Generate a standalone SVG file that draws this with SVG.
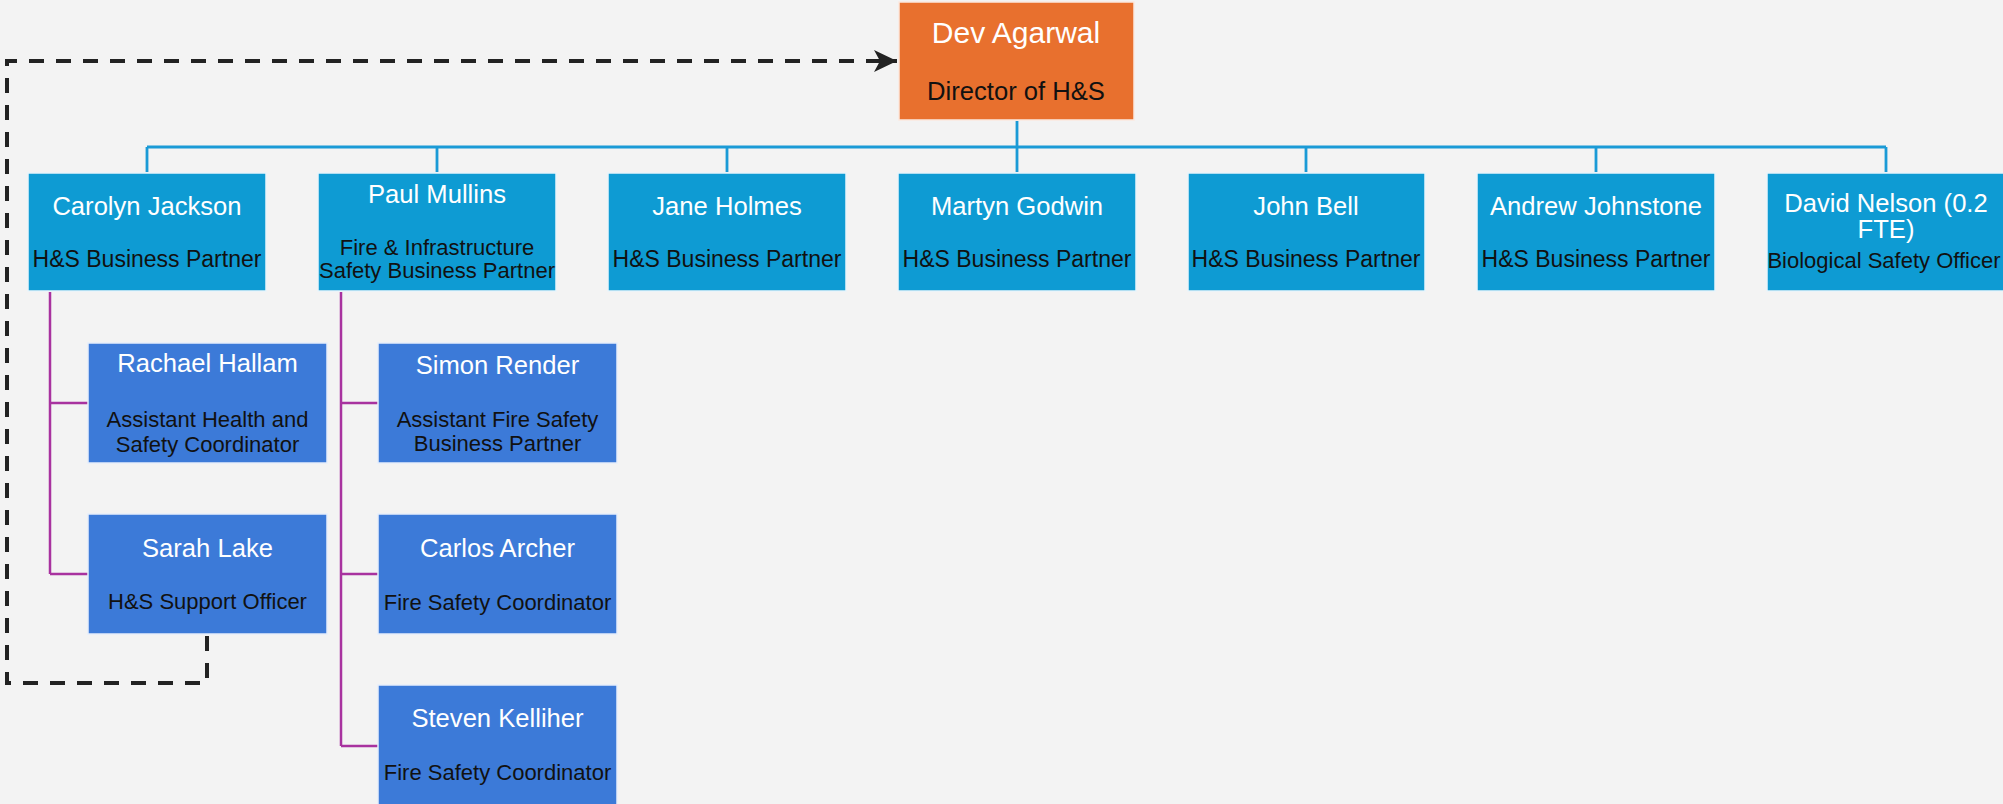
<svg xmlns="http://www.w3.org/2000/svg" width="2003" height="804" viewBox="0 0 2003 804">
<style>
.bg{fill:#f3f3f3}
.top{fill:#0e9bd3;stroke:#e9f5fb;stroke-width:1.5}
.sub{fill:#3c7ad8;stroke:#e6eefb;stroke-width:1.5}
.dir{fill:#e8702e;stroke:#fbe9df;stroke-width:1.5}
.name{font-family:"Liberation Sans",Arial,sans-serif;font-size:25.6px;fill:#ffffff;text-anchor:middle}
.dname{font-family:"Liberation Sans",Arial,sans-serif;font-size:30px;fill:#ffffff;text-anchor:middle}
.role{font-family:"Liberation Sans",Arial,sans-serif;font-size:23px;fill:#111111;text-anchor:middle}
.srole{font-family:"Liberation Sans",Arial,sans-serif;font-size:22px;fill:#111111;text-anchor:middle}
.drole{font-family:"Liberation Sans",Arial,sans-serif;font-size:25.6px;fill:#111111;text-anchor:middle}
.blue{stroke:#1a9ad6;stroke-width:2.8;fill:none}
.purp{stroke:#a8329f;stroke-width:2.5;fill:none}
.dash{stroke:#222222;stroke-width:4;fill:none;stroke-dasharray:15 12}
</style>
<defs>
<marker id="arr" markerUnits="userSpaceOnUse" markerWidth="26" markerHeight="24" refX="23" refY="11" orient="auto">
<path d="M0,0 L23,11 L0,22 L6,11 z" fill="#222222"/>
</marker>
</defs>
<rect class="bg" x="0" y="0" width="2003" height="804"/>
<g id="connectors">
<path class="blue" d="M1017,121 V147 M147,147 H1886 M147,147 V172 M437,147 V172 M727,147 V172 M1017,147 V172 M1306,147 V172 M1596,147 V172 M1886,147 V172"/>
<path class="purp" d="M50,292 V574 M50,403 H88 M50,574 H88"/>
<path class="purp" d="M341,292 V746 M341,403 H378 M341,574 H378 M341,746 H378"/>
<path class="dash" d="M207,636 V683 H7 V61 H897" marker-end="url(#arr)"/>
</g>
<g id="dev">
<rect class="dir" x="899" y="2" width="235" height="118"/>
<text class="dname" x="1016" y="43">Dev Agarwal</text>
<text class="drole" x="1016" y="100">Director of H&amp;S</text>
</g>
<g id="carolyn">
<rect class="top" x="28" y="173" width="238" height="118"/>
<text class="name" x="147" y="215">Carolyn Jackson</text>
<text class="role" x="147" y="267">H&amp;S Business Partner</text>
</g>
<g id="paul">
<rect class="top" x="318" y="173" width="238" height="118"/>
<text class="name" x="437" y="203">Paul Mullins</text>
<text class="srole" x="437" y="255">Fire &amp; Infrastructure</text>
<text class="srole" x="437" y="278">Safety Business Partner</text>
</g>
<g id="jane">
<rect class="top" x="608" y="173" width="238" height="118"/>
<text class="name" x="727" y="215">Jane Holmes</text>
<text class="role" x="727" y="267">H&amp;S Business Partner</text>
</g>
<g id="martyn">
<rect class="top" x="898" y="173" width="238" height="118"/>
<text class="name" x="1017" y="215">Martyn Godwin</text>
<text class="role" x="1017" y="267">H&amp;S Business Partner</text>
</g>
<g id="john">
<rect class="top" x="1188" y="173" width="237" height="118"/>
<text class="name" x="1306" y="215">John Bell</text>
<text class="role" x="1306" y="267">H&amp;S Business Partner</text>
</g>
<g id="andrew">
<rect class="top" x="1477" y="173" width="238" height="118"/>
<text class="name" x="1596" y="215">Andrew Johnstone</text>
<text class="role" x="1596" y="267">H&amp;S Business Partner</text>
</g>
<g id="david">
<rect class="top" x="1767" y="173" width="238" height="118"/>
<text class="name" x="1886" y="212">David Nelson (0.2</text>
<text class="name" x="1886" y="238">FTE)</text>
<text class="srole" x="1884" y="268">Biological Safety Officer</text>
</g>
<g id="rachael">
<rect class="sub" x="88" y="343" width="239" height="120"/>
<text class="name" x="207.5" y="372">Rachael Hallam</text>
<text class="srole" x="207.5" y="427">Assistant Health and</text>
<text class="srole" x="207.5" y="452">Safety Coordinator</text>
</g>
<g id="sarah">
<rect class="sub" x="88" y="514" width="239" height="120"/>
<text class="name" x="207.5" y="557">Sarah Lake</text>
<text class="srole" x="207.5" y="609">H&amp;S Support Officer</text>
</g>
<g id="simon">
<rect class="sub" x="378" y="343" width="239" height="120"/>
<text class="name" x="497.5" y="374">Simon Render</text>
<text class="srole" x="497.5" y="427">Assistant Fire Safety</text>
<text class="srole" x="497.5" y="451">Business Partner</text>
</g>
<g id="carlos">
<rect class="sub" x="378" y="514" width="239" height="120"/>
<text class="name" x="497.5" y="557">Carlos Archer</text>
<text class="srole" x="497.5" y="610">Fire Safety Coordinator</text>
</g>
<g id="steven">
<rect class="sub" x="378" y="685" width="239" height="122"/>
<text class="name" x="497.5" y="727">Steven Kelliher</text>
<text class="srole" x="497.5" y="780">Fire Safety Coordinator</text>
</g>
</svg>
